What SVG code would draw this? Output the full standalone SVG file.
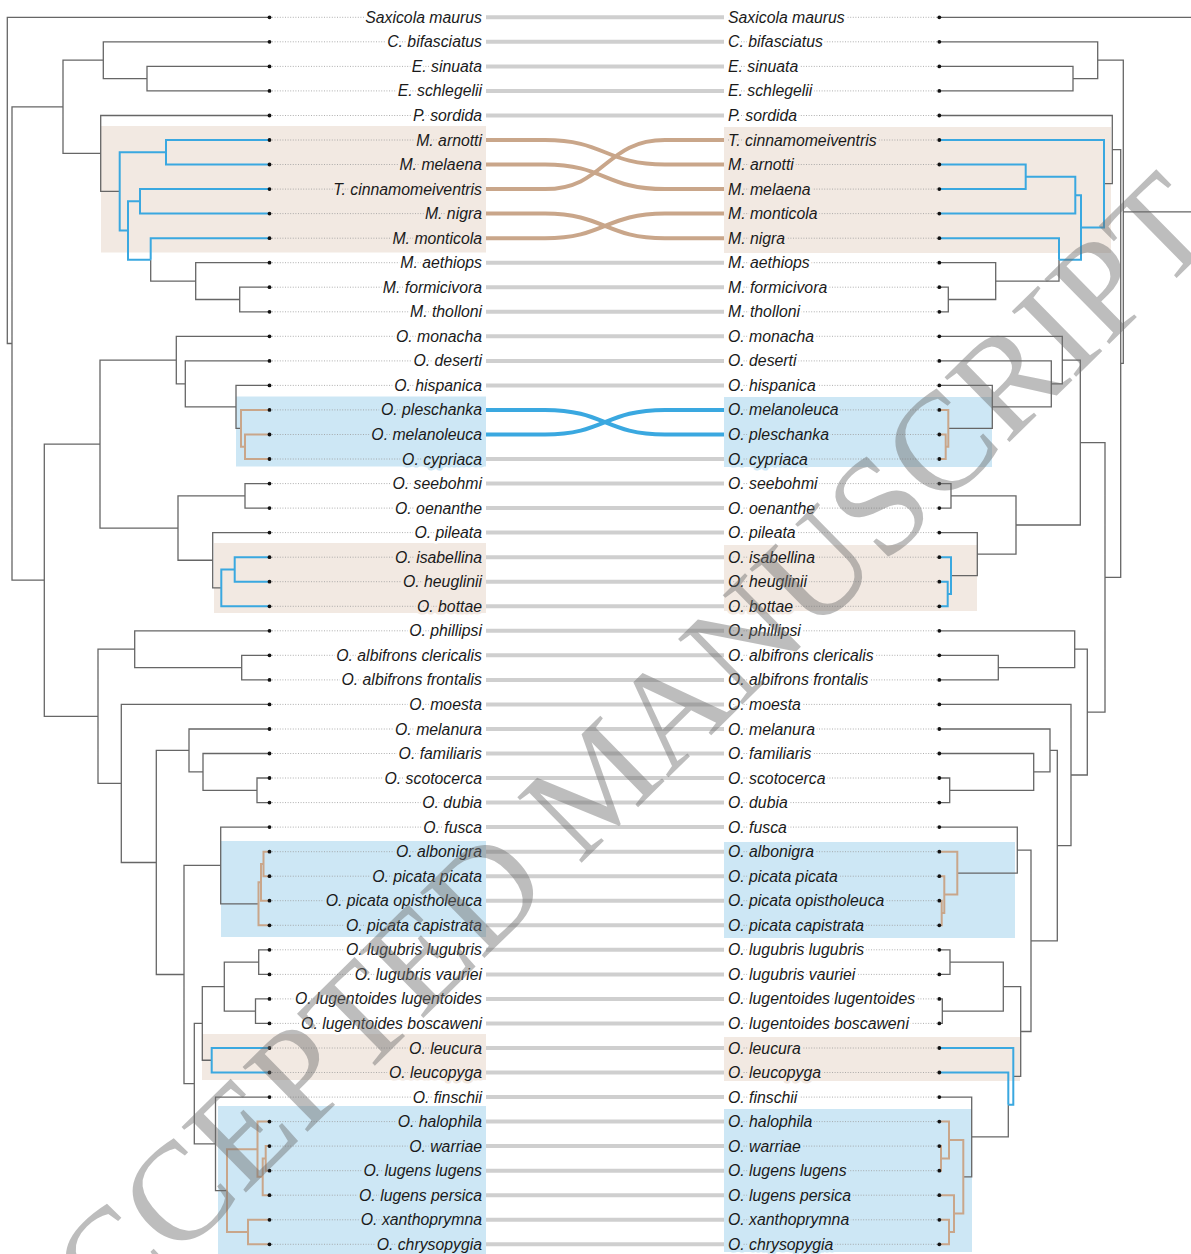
<svg xmlns="http://www.w3.org/2000/svg" width="1191" height="1254" viewBox="0 0 1191 1254">
<style>
.bgb{fill:#f2e9e2}.bgc{fill:#cde7f5}
.g{fill:none;stroke:#666;stroke-width:1.3}
.b{fill:none;stroke:#3aa8e0;stroke-width:2}
.t{fill:none;stroke:#c9a68a;stroke-width:2}
.dl{stroke:#9a9a9a;stroke-width:0.8;stroke-dasharray:1 1.6}
.dot{fill:#111}
text.lab{font-family:"Liberation Sans",Arial,sans-serif;font-style:italic;font-size:15.8px;fill:#1a1a1a;stroke-width:5;stroke-linejoin:round;paint-order:stroke}
.l{text-anchor:end}
.hw{stroke:#fff}.hb{stroke:#f2e9e2}.hc{stroke:#cde7f5}
.cg{fill:none;stroke:#cfcfcf;stroke-width:4}
.ct{fill:none;stroke:#c9a68a;stroke-width:4}
.cb{fill:none;stroke:#3aa8e0;stroke-width:4}
.wm{font-family:"Liberation Serif","Times New Roman",serif;font-size:140px;fill:#6e6e6e;opacity:0.45}
</style>
<rect width="1191" height="1254" fill="#fff"/>
<g id="highlights">
<rect class="bgb" x="101" y="126" width="385" height="126.5"/>
<rect class="bgb" x="724" y="127" width="387" height="126"/>
<rect class="bgc" x="236" y="396.5" width="250" height="70"/>
<rect class="bgc" x="724" y="397" width="268" height="70"/>
<rect class="bgb" x="214" y="543" width="272" height="70"/>
<rect class="bgb" x="724" y="545" width="253" height="66"/>
<rect class="bgc" x="221" y="841" width="265" height="96"/>
<rect class="bgc" x="724" y="842" width="291" height="96"/>
<rect class="bgb" x="202" y="1034" width="284" height="46"/>
<rect class="bgb" x="724" y="1037" width="296" height="44"/>
<rect class="bgc" x="218" y="1106" width="268" height="148"/>
<rect class="bgc" x="724" y="1109" width="248" height="143"/>
</g>
<g id="left-tree">
<path class="g" d="M269.5,17.3 H7.3 V343.5 H12 M63,106.8 H12 V580.2 H44.3 M103.3,60.2 H63 V153.45 H100.7 M269.5,41.8 H103.3 V78.65 H147 M269.5,66.4 H147 V90.9 H269.5 M269.5,115.5 H100.7 V191.4 H119.7 M150.7,259.65 V281.1 H195.7 M269.5,262.7 H195.7 V299.5 H239.7 M269.5,287.2 H239.7 V311.8 H269.5 M100,444.1 H44.3 V716.3 H98 M176.3,360.1 H100 V528.05 H178 M269.5,336.3 H176.3 V383.9 H185.3 M269.5,360.9 H185.3 V406.85 H236 M269.5,385.4 H236 V428.3 H241 M245,495.85 H178 V560.25 H212.7 M269.5,483.6 H245 V508.1 H269.5 M269.5,532.6 H212.7 V587.9 H221.3 M134.7,649.2 H98 V783.45 H121.3 M269.5,630.8 H134.7 V667.6 H241.7 M269.5,655.3 H241.7 V679.9 H269.5 M269.5,704.4 H121.3 V862.5 H156.3 M189,750.45 H156.3 V974.5 H184 M269.5,729 H189 V771.9 H203 M269.5,753.5 H203 V790.3 H257 M269.5,778 H257 V802.6 H269.5 M220.7,865.45 H184 V1083.6 H194.3 M269.5,827.1 H220.7 V903.8 H258.5 M202.3,1023.4 H194.3 V1143.85 H215.5 M224.3,986.6 H202.3 V1060.25 H211.7 M258.7,962.1 H224.3 V1011.15 H255.5 M269.5,949.8 H258.7 V974.4 H269.5 M269.5,998.9 H255.5 V1023.4 H269.5 M269.5,1097.1 H215.5 V1190.6 H227"/>
<path class="b" d="M166,152.25 H119.7 V230.5 H128 M269.5,140 H166 V164.5 H269.5 M140,201.35 H128 V259.65 H150.7 M269.5,189.1 H140 V213.6 H269.5 M269.5,238.2 H150.7 V259.65 M269.5,557.2 H234.7 V581.7 H269.5 M234.7,569.45 H221.3 V606.3 H269.5 M269.5,1048 H211.7 V1072.5 H269.5"/>
<path class="t" d="M269.5,409.9 H241 V446.75 H245 M269.5,434.5 H245 V459 H269.5 M269.5,851.7 H263.5 V876.2 H269.5 M263.5,863.95 H261 V900.7 H269.5 M261,882.3 H258.5 V925.3 H269.5 M257.5,1149.2 H227 V1232.05 H248 M269.5,1121.6 H257.5 V1176.8 H262.7 M265.7,1158.4 H262.7 V1195.2 H269.5 M269.5,1146.1 H265.7 V1170.7 H269.5 M269.5,1219.8 H248 V1244.3 H269.5"/>
</g>
<g id="right-tree">
<path class="g" d="M939.3,17.3 H1191 M1123.3,211.8 H1191 M1097.7,60.2 H1123.3 V363.45 H1120.7 M939.3,41.8 H1097.7 V78.65 H1073 M939.3,66.4 H1073 V90.9 H939.3 M1112.3,149.6 H1120.7 V577.3 H1105 M939.3,115.5 H1112.3 V183.7 H1104 M1059,259.65 V281.1 H995.7 M939.3,262.7 H995.7 V299.5 H948.3 M939.3,287.2 H948.3 V311.8 H939.3 M1080.3,442.55 H1105 V712.1 H1087.3 M1062.3,360.1 H1080.3 V525 H1016 M939.3,336.3 H1062.3 V383.9 H1051.3 M939.3,360.9 H1051.3 V406.85 H992.3 M939.3,385.4 H992.3 V428.3 H948.3 M951,495.85 H1016 V554.1 H977.3 M939.3,483.6 H951 V508.1 H939.3 M939.3,532.6 H977.3 V575.6 H951 M1074.7,649.2 H1087.3 V775 H1071 M939.3,630.8 H1074.7 V667.6 H998.3 M939.3,655.3 H998.3 V679.9 H939.3 M939.3,704.4 H1071 V845.6 H1057.3 M1050,750.45 H1057.3 V940.8 H1031 M939.3,729 H1050 V771.9 H1033.7 M939.3,753.5 H1033.7 V790.3 H949.7 M939.3,778 H949.7 V802.6 H939.3 M1017.3,850.1 H1031 V1031.5 H1020.7 M939.3,827.1 H1017.3 V873.15 H957.3 M1003.3,986.6 H1020.7 V1076.35 H1013.3 M950,962.1 H1003.3 V1011.15 H942.3 M939.3,949.8 H950 V974.4 H939.3 M939.3,998.9 H942.3 V1023.4 H939.3 M1008.3,1104.7 V1136.95 H971.7 M939.3,1097.1 H971.7 V1176.8 H963.3"/>
<path class="b" d="M939.3,140 H1104 V227.4 H1081 M1075.3,195.2 H1081 V259.65 H1059 M1025.7,176.8 H1075.3 V213.6 H939.3 M939.3,164.5 H1025.7 V189.1 H939.3 M939.3,238.2 H1059 V259.65 M939.3,557.2 H951 V594 H947.7 M939.3,581.7 H947.7 V606.3 H939.3 M939.3,1048 H1013.3 V1104.7 H1008.3 M939.3,1072.5 H1008.3 V1104.7"/>
<path class="t" d="M939.3,409.9 H948.3 V446.75 H945.7 M939.3,434.5 H945.7 V459 H939.3 M939.3,851.7 H957.3 V894.6 H944.3 M939.3,876.2 H944.3 V913 H941.7 M939.3,900.7 H941.7 V925.3 H939.3 M949,1140 H963.3 V1213.6 H954 M939.3,1121.6 H949 V1158.4 H941 M939.3,1146.1 H941 V1170.7 H939.3 M939.3,1195.2 H954 V1232.05 H949 M939.3,1219.8 H949 V1244.3 H939.3"/>
</g>
<g id="connectors">
<path class="cg" d="M486,17.3H724M486,41.8H724M486,66.4H724M486,90.9H724M486,115.5H724M486,262.7H724M486,287.2H724M486,311.8H724M486,336.3H724M486,360.9H724M486,385.4H724M486,459H724M486,483.6H724M486,508.1H724M486,532.6H724M486,557.2H724M486,581.7H724M486,606.3H724M486,630.8H724M486,655.3H724M486,679.9H724M486,704.4H724M486,729H724M486,753.5H724M486,778H724M486,802.6H724M486,827.1H724M486,851.7H724M486,876.2H724M486,900.7H724M486,925.3H724M486,949.8H724M486,974.4H724M486,998.9H724M486,1023.4H724M486,1048H724M486,1072.5H724M486,1097.1H724M486,1121.6H724M486,1146.1H724M486,1170.7H724M486,1195.2H724M486,1219.8H724M486,1244.3H724"/>
<path class="ct" d="M486,140 H545 C605,140 605,164.5 665,164.5 H724 M486,164.5 H545 C605,164.5 605,189.1 665,189.1 H724 M486,189.1 H545 C605,189.1 605,140 665,140 H724 M486,213.6 H545 C605,213.6 605,238.2 665,238.2 H724 M486,238.2 H545 C605,238.2 605,213.6 665,213.6 H724"/>
<path class="cb" d="M486,409.9 H545 C605,409.9 605,434.5 665,434.5 H724 M486,434.5 H545 C605,434.5 605,409.9 665,409.9 H724"/>
</g>
<g id="left-dotted">
<path class="dl" d="M272,17.3H482M272,41.8H482M272,66.4H482M272,90.9H482M272,115.5H482M272,140H482M272,164.5H482M272,189.1H482M272,213.6H482M272,238.2H482M272,262.7H482M272,287.2H482M272,311.8H482M272,336.3H482M272,360.9H482M272,385.4H482M272,409.9H482M272,434.5H482M272,459H482M272,483.6H482M272,508.1H482M272,532.6H482M272,557.2H482M272,581.7H482M272,606.3H482M272,630.8H482M272,655.3H482M272,679.9H482M272,704.4H482M272,729H482M272,753.5H482M272,778H482M272,802.6H482M272,827.1H482M272,851.7H482M272,876.2H482M272,900.7H482M272,925.3H482M272,949.8H482M272,974.4H482M272,998.9H482M272,1023.4H482M272,1048H482M272,1072.5H482M272,1097.1H482M272,1121.6H482M272,1146.1H482M272,1170.7H482M272,1195.2H482M272,1219.8H482M272,1244.3H482"/>
</g>
<g id="right-dotted">
<path class="dl" d="M728,17.3H937M728,41.8H937M728,66.4H937M728,90.9H937M728,115.5H937M728,140H937M728,164.5H937M728,189.1H937M728,213.6H937M728,238.2H937M728,262.7H937M728,287.2H937M728,311.8H937M728,336.3H937M728,360.9H937M728,385.4H937M728,409.9H937M728,434.5H937M728,459H937M728,483.6H937M728,508.1H937M728,532.6H937M728,557.2H937M728,581.7H937M728,606.3H937M728,630.8H937M728,655.3H937M728,679.9H937M728,704.4H937M728,729H937M728,753.5H937M728,778H937M728,802.6H937M728,827.1H937M728,851.7H937M728,876.2H937M728,900.7H937M728,925.3H937M728,949.8H937M728,974.4H937M728,998.9H937M728,1023.4H937M728,1048H937M728,1072.5H937M728,1097.1H937M728,1121.6H937M728,1146.1H937M728,1170.7H937M728,1195.2H937M728,1219.8H937M728,1244.3H937"/>
</g>
<g id="left-tips">
<g id="L0"><circle class="dot" cx="269.5" cy="17.3" r="1.9"/><text class="lab l hw" x="482" y="22.8">Saxicola maurus</text></g>
<g id="L1"><circle class="dot" cx="269.5" cy="41.8" r="1.9"/><text class="lab l hw" x="482" y="47.3">C. bifasciatus</text></g>
<g id="L2"><circle class="dot" cx="269.5" cy="66.4" r="1.9"/><text class="lab l hw" x="482" y="71.9">E. sinuata</text></g>
<g id="L3"><circle class="dot" cx="269.5" cy="90.9" r="1.9"/><text class="lab l hw" x="482" y="96.4">E. schlegelii</text></g>
<g id="L4"><circle class="dot" cx="269.5" cy="115.5" r="1.9"/><text class="lab l hw" x="482" y="121">P. sordida</text></g>
<g id="L5"><circle class="dot" cx="269.5" cy="140" r="1.9"/><text class="lab l hb" x="482" y="145.5">M. arnotti</text></g>
<g id="L6"><circle class="dot" cx="269.5" cy="164.5" r="1.9"/><text class="lab l hb" x="482" y="170">M. melaena</text></g>
<g id="L7"><circle class="dot" cx="269.5" cy="189.1" r="1.9"/><text class="lab l hb" x="482" y="194.6">T. cinnamomeiventris</text></g>
<g id="L8"><circle class="dot" cx="269.5" cy="213.6" r="1.9"/><text class="lab l hb" x="482" y="219.1">M. nigra</text></g>
<g id="L9"><circle class="dot" cx="269.5" cy="238.2" r="1.9"/><text class="lab l hb" x="482" y="243.7">M. monticola</text></g>
<g id="L10"><circle class="dot" cx="269.5" cy="262.7" r="1.9"/><text class="lab l hw" x="482" y="268.2">M. aethiops</text></g>
<g id="L11"><circle class="dot" cx="269.5" cy="287.2" r="1.9"/><text class="lab l hw" x="482" y="292.7">M. formicivora</text></g>
<g id="L12"><circle class="dot" cx="269.5" cy="311.8" r="1.9"/><text class="lab l hw" x="482" y="317.3">M. tholloni</text></g>
<g id="L13"><circle class="dot" cx="269.5" cy="336.3" r="1.9"/><text class="lab l hw" x="482" y="341.8">O. monacha</text></g>
<g id="L14"><circle class="dot" cx="269.5" cy="360.9" r="1.9"/><text class="lab l hw" x="482" y="366.4">O. deserti</text></g>
<g id="L15"><circle class="dot" cx="269.5" cy="385.4" r="1.9"/><text class="lab l hw" x="482" y="390.9">O. hispanica</text></g>
<g id="L16"><circle class="dot" cx="269.5" cy="409.9" r="1.9"/><text class="lab l hc" x="482" y="415.4">O. pleschanka</text></g>
<g id="L17"><circle class="dot" cx="269.5" cy="434.5" r="1.9"/><text class="lab l hc" x="482" y="440">O. melanoleuca</text></g>
<g id="L18"><circle class="dot" cx="269.5" cy="459" r="1.9"/><text class="lab l hc" x="482" y="464.5">O. cypriaca</text></g>
<g id="L19"><circle class="dot" cx="269.5" cy="483.6" r="1.9"/><text class="lab l hw" x="482" y="489.1">O. seebohmi</text></g>
<g id="L20"><circle class="dot" cx="269.5" cy="508.1" r="1.9"/><text class="lab l hw" x="482" y="513.6">O. oenanthe</text></g>
<g id="L21"><circle class="dot" cx="269.5" cy="532.6" r="1.9"/><text class="lab l hw" x="482" y="538.1">O. pileata</text></g>
<g id="L22"><circle class="dot" cx="269.5" cy="557.2" r="1.9"/><text class="lab l hb" x="482" y="562.7">O. isabellina</text></g>
<g id="L23"><circle class="dot" cx="269.5" cy="581.7" r="1.9"/><text class="lab l hb" x="482" y="587.2">O. heuglinii</text></g>
<g id="L24"><circle class="dot" cx="269.5" cy="606.3" r="1.9"/><text class="lab l hb" x="482" y="611.8">O. bottae</text></g>
<g id="L25"><circle class="dot" cx="269.5" cy="630.8" r="1.9"/><text class="lab l hw" x="482" y="636.3">O. phillipsi</text></g>
<g id="L26"><circle class="dot" cx="269.5" cy="655.3" r="1.9"/><text class="lab l hw" x="482" y="660.8">O. albifrons clericalis</text></g>
<g id="L27"><circle class="dot" cx="269.5" cy="679.9" r="1.9"/><text class="lab l hw" x="482" y="685.4">O. albifrons frontalis</text></g>
<g id="L28"><circle class="dot" cx="269.5" cy="704.4" r="1.9"/><text class="lab l hw" x="482" y="709.9">O. moesta</text></g>
<g id="L29"><circle class="dot" cx="269.5" cy="729" r="1.9"/><text class="lab l hw" x="482" y="734.5">O. melanura</text></g>
<g id="L30"><circle class="dot" cx="269.5" cy="753.5" r="1.9"/><text class="lab l hw" x="482" y="759">O. familiaris</text></g>
<g id="L31"><circle class="dot" cx="269.5" cy="778" r="1.9"/><text class="lab l hw" x="482" y="783.5">O. scotocerca</text></g>
<g id="L32"><circle class="dot" cx="269.5" cy="802.6" r="1.9"/><text class="lab l hw" x="482" y="808.1">O. dubia</text></g>
<g id="L33"><circle class="dot" cx="269.5" cy="827.1" r="1.9"/><text class="lab l hw" x="482" y="832.6">O. fusca</text></g>
<g id="L34"><circle class="dot" cx="269.5" cy="851.7" r="1.9"/><text class="lab l hc" x="482" y="857.2">O. albonigra</text></g>
<g id="L35"><circle class="dot" cx="269.5" cy="876.2" r="1.9"/><text class="lab l hc" x="482" y="881.7">O. picata picata</text></g>
<g id="L36"><circle class="dot" cx="269.5" cy="900.7" r="1.9"/><text class="lab l hc" x="482" y="906.2">O. picata opistholeuca</text></g>
<g id="L37"><circle class="dot" cx="269.5" cy="925.3" r="1.9"/><text class="lab l hc" x="482" y="930.8">O. picata capistrata</text></g>
<g id="L38"><circle class="dot" cx="269.5" cy="949.8" r="1.9"/><text class="lab l hw" x="482" y="955.3">O. lugubris lugubris</text></g>
<g id="L39"><circle class="dot" cx="269.5" cy="974.4" r="1.9"/><text class="lab l hw" x="482" y="979.9">O. lugubris vauriei</text></g>
<g id="L40"><circle class="dot" cx="269.5" cy="998.9" r="1.9"/><text class="lab l hw" x="482" y="1004.4">O. lugentoides lugentoides</text></g>
<g id="L41"><circle class="dot" cx="269.5" cy="1023.4" r="1.9"/><text class="lab l hw" x="482" y="1028.9">O. lugentoides boscaweni</text></g>
<g id="L42"><circle class="dot" cx="269.5" cy="1048" r="1.9"/><text class="lab l hb" x="482" y="1053.5">O. leucura</text></g>
<g id="L43"><circle class="dot" cx="269.5" cy="1072.5" r="1.9"/><text class="lab l hb" x="482" y="1078">O. leucopyga</text></g>
<g id="L44"><circle class="dot" cx="269.5" cy="1097.1" r="1.9"/><text class="lab l hw" x="482" y="1102.6">O. finschii</text></g>
<g id="L45"><circle class="dot" cx="269.5" cy="1121.6" r="1.9"/><text class="lab l hc" x="482" y="1127.1">O. halophila</text></g>
<g id="L46"><circle class="dot" cx="269.5" cy="1146.1" r="1.9"/><text class="lab l hc" x="482" y="1151.6">O. warriae</text></g>
<g id="L47"><circle class="dot" cx="269.5" cy="1170.7" r="1.9"/><text class="lab l hc" x="482" y="1176.2">O. lugens lugens</text></g>
<g id="L48"><circle class="dot" cx="269.5" cy="1195.2" r="1.9"/><text class="lab l hc" x="482" y="1200.7">O. lugens persica</text></g>
<g id="L49"><circle class="dot" cx="269.5" cy="1219.8" r="1.9"/><text class="lab l hc" x="482" y="1225.3">O. xanthoprymna</text></g>
<g id="L50"><circle class="dot" cx="269.5" cy="1244.3" r="1.9"/><text class="lab l hc" x="482" y="1249.8">O. chrysopygia</text></g>
</g>
<g id="right-tips">
<g id="R0"><circle class="dot" cx="939.3" cy="17.3" r="1.9"/><text class="lab hw" x="728" y="22.8">Saxicola maurus</text></g>
<g id="R1"><circle class="dot" cx="939.3" cy="41.8" r="1.9"/><text class="lab hw" x="728" y="47.3">C. bifasciatus</text></g>
<g id="R2"><circle class="dot" cx="939.3" cy="66.4" r="1.9"/><text class="lab hw" x="728" y="71.9">E. sinuata</text></g>
<g id="R3"><circle class="dot" cx="939.3" cy="90.9" r="1.9"/><text class="lab hw" x="728" y="96.4">E. schlegelii</text></g>
<g id="R4"><circle class="dot" cx="939.3" cy="115.5" r="1.9"/><text class="lab hw" x="728" y="121">P. sordida</text></g>
<g id="R5"><circle class="dot" cx="939.3" cy="140" r="1.9"/><text class="lab hb" x="728" y="145.5">T. cinnamomeiventris</text></g>
<g id="R6"><circle class="dot" cx="939.3" cy="164.5" r="1.9"/><text class="lab hb" x="728" y="170">M. arnotti</text></g>
<g id="R7"><circle class="dot" cx="939.3" cy="189.1" r="1.9"/><text class="lab hb" x="728" y="194.6">M. melaena</text></g>
<g id="R8"><circle class="dot" cx="939.3" cy="213.6" r="1.9"/><text class="lab hb" x="728" y="219.1">M. monticola</text></g>
<g id="R9"><circle class="dot" cx="939.3" cy="238.2" r="1.9"/><text class="lab hb" x="728" y="243.7">M. nigra</text></g>
<g id="R10"><circle class="dot" cx="939.3" cy="262.7" r="1.9"/><text class="lab hw" x="728" y="268.2">M. aethiops</text></g>
<g id="R11"><circle class="dot" cx="939.3" cy="287.2" r="1.9"/><text class="lab hw" x="728" y="292.7">M. formicivora</text></g>
<g id="R12"><circle class="dot" cx="939.3" cy="311.8" r="1.9"/><text class="lab hw" x="728" y="317.3">M. tholloni</text></g>
<g id="R13"><circle class="dot" cx="939.3" cy="336.3" r="1.9"/><text class="lab hw" x="728" y="341.8">O. monacha</text></g>
<g id="R14"><circle class="dot" cx="939.3" cy="360.9" r="1.9"/><text class="lab hw" x="728" y="366.4">O. deserti</text></g>
<g id="R15"><circle class="dot" cx="939.3" cy="385.4" r="1.9"/><text class="lab hw" x="728" y="390.9">O. hispanica</text></g>
<g id="R16"><circle class="dot" cx="939.3" cy="409.9" r="1.9"/><text class="lab hc" x="728" y="415.4">O. melanoleuca</text></g>
<g id="R17"><circle class="dot" cx="939.3" cy="434.5" r="1.9"/><text class="lab hc" x="728" y="440">O. pleschanka</text></g>
<g id="R18"><circle class="dot" cx="939.3" cy="459" r="1.9"/><text class="lab hc" x="728" y="464.5">O. cypriaca</text></g>
<g id="R19"><circle class="dot" cx="939.3" cy="483.6" r="1.9"/><text class="lab hw" x="728" y="489.1">O. seebohmi</text></g>
<g id="R20"><circle class="dot" cx="939.3" cy="508.1" r="1.9"/><text class="lab hw" x="728" y="513.6">O. oenanthe</text></g>
<g id="R21"><circle class="dot" cx="939.3" cy="532.6" r="1.9"/><text class="lab hw" x="728" y="538.1">O. pileata</text></g>
<g id="R22"><circle class="dot" cx="939.3" cy="557.2" r="1.9"/><text class="lab hb" x="728" y="562.7">O. isabellina</text></g>
<g id="R23"><circle class="dot" cx="939.3" cy="581.7" r="1.9"/><text class="lab hb" x="728" y="587.2">O. heuglinii</text></g>
<g id="R24"><circle class="dot" cx="939.3" cy="606.3" r="1.9"/><text class="lab hb" x="728" y="611.8">O. bottae</text></g>
<g id="R25"><circle class="dot" cx="939.3" cy="630.8" r="1.9"/><text class="lab hw" x="728" y="636.3">O. phillipsi</text></g>
<g id="R26"><circle class="dot" cx="939.3" cy="655.3" r="1.9"/><text class="lab hw" x="728" y="660.8">O. albifrons clericalis</text></g>
<g id="R27"><circle class="dot" cx="939.3" cy="679.9" r="1.9"/><text class="lab hw" x="728" y="685.4">O. albifrons frontalis</text></g>
<g id="R28"><circle class="dot" cx="939.3" cy="704.4" r="1.9"/><text class="lab hw" x="728" y="709.9">O. moesta</text></g>
<g id="R29"><circle class="dot" cx="939.3" cy="729" r="1.9"/><text class="lab hw" x="728" y="734.5">O. melanura</text></g>
<g id="R30"><circle class="dot" cx="939.3" cy="753.5" r="1.9"/><text class="lab hw" x="728" y="759">O. familiaris</text></g>
<g id="R31"><circle class="dot" cx="939.3" cy="778" r="1.9"/><text class="lab hw" x="728" y="783.5">O. scotocerca</text></g>
<g id="R32"><circle class="dot" cx="939.3" cy="802.6" r="1.9"/><text class="lab hw" x="728" y="808.1">O. dubia</text></g>
<g id="R33"><circle class="dot" cx="939.3" cy="827.1" r="1.9"/><text class="lab hw" x="728" y="832.6">O. fusca</text></g>
<g id="R34"><circle class="dot" cx="939.3" cy="851.7" r="1.9"/><text class="lab hc" x="728" y="857.2">O. albonigra</text></g>
<g id="R35"><circle class="dot" cx="939.3" cy="876.2" r="1.9"/><text class="lab hc" x="728" y="881.7">O. picata picata</text></g>
<g id="R36"><circle class="dot" cx="939.3" cy="900.7" r="1.9"/><text class="lab hc" x="728" y="906.2">O. picata opistholeuca</text></g>
<g id="R37"><circle class="dot" cx="939.3" cy="925.3" r="1.9"/><text class="lab hc" x="728" y="930.8">O. picata capistrata</text></g>
<g id="R38"><circle class="dot" cx="939.3" cy="949.8" r="1.9"/><text class="lab hw" x="728" y="955.3">O. lugubris lugubris</text></g>
<g id="R39"><circle class="dot" cx="939.3" cy="974.4" r="1.9"/><text class="lab hw" x="728" y="979.9">O. lugubris vauriei</text></g>
<g id="R40"><circle class="dot" cx="939.3" cy="998.9" r="1.9"/><text class="lab hw" x="728" y="1004.4">O. lugentoides lugentoides</text></g>
<g id="R41"><circle class="dot" cx="939.3" cy="1023.4" r="1.9"/><text class="lab hw" x="728" y="1028.9">O. lugentoides boscaweni</text></g>
<g id="R42"><circle class="dot" cx="939.3" cy="1048" r="1.9"/><text class="lab hb" x="728" y="1053.5">O. leucura</text></g>
<g id="R43"><circle class="dot" cx="939.3" cy="1072.5" r="1.9"/><text class="lab hb" x="728" y="1078">O. leucopyga</text></g>
<g id="R44"><circle class="dot" cx="939.3" cy="1097.1" r="1.9"/><text class="lab hw" x="728" y="1102.6">O. finschii</text></g>
<g id="R45"><circle class="dot" cx="939.3" cy="1121.6" r="1.9"/><text class="lab hc" x="728" y="1127.1">O. halophila</text></g>
<g id="R46"><circle class="dot" cx="939.3" cy="1146.1" r="1.9"/><text class="lab hc" x="728" y="1151.6">O. warriae</text></g>
<g id="R47"><circle class="dot" cx="939.3" cy="1170.7" r="1.9"/><text class="lab hc" x="728" y="1176.2">O. lugens lugens</text></g>
<g id="R48"><circle class="dot" cx="939.3" cy="1195.2" r="1.9"/><text class="lab hc" x="728" y="1200.7">O. lugens persica</text></g>
<g id="R49"><circle class="dot" cx="939.3" cy="1219.8" r="1.9"/><text class="lab hc" x="728" y="1225.3">O. xanthoprymna</text></g>
<g id="R50"><circle class="dot" cx="939.3" cy="1244.3" r="1.9"/><text class="lab hc" x="728" y="1249.8">O. chrysopygia</text></g>
</g>
<g id="watermark">
<text class="wm" text-anchor="middle" transform="translate(630,815) rotate(-44.5)">ACCEPTED MANUSCRIPT</text>
</g>
</svg>
